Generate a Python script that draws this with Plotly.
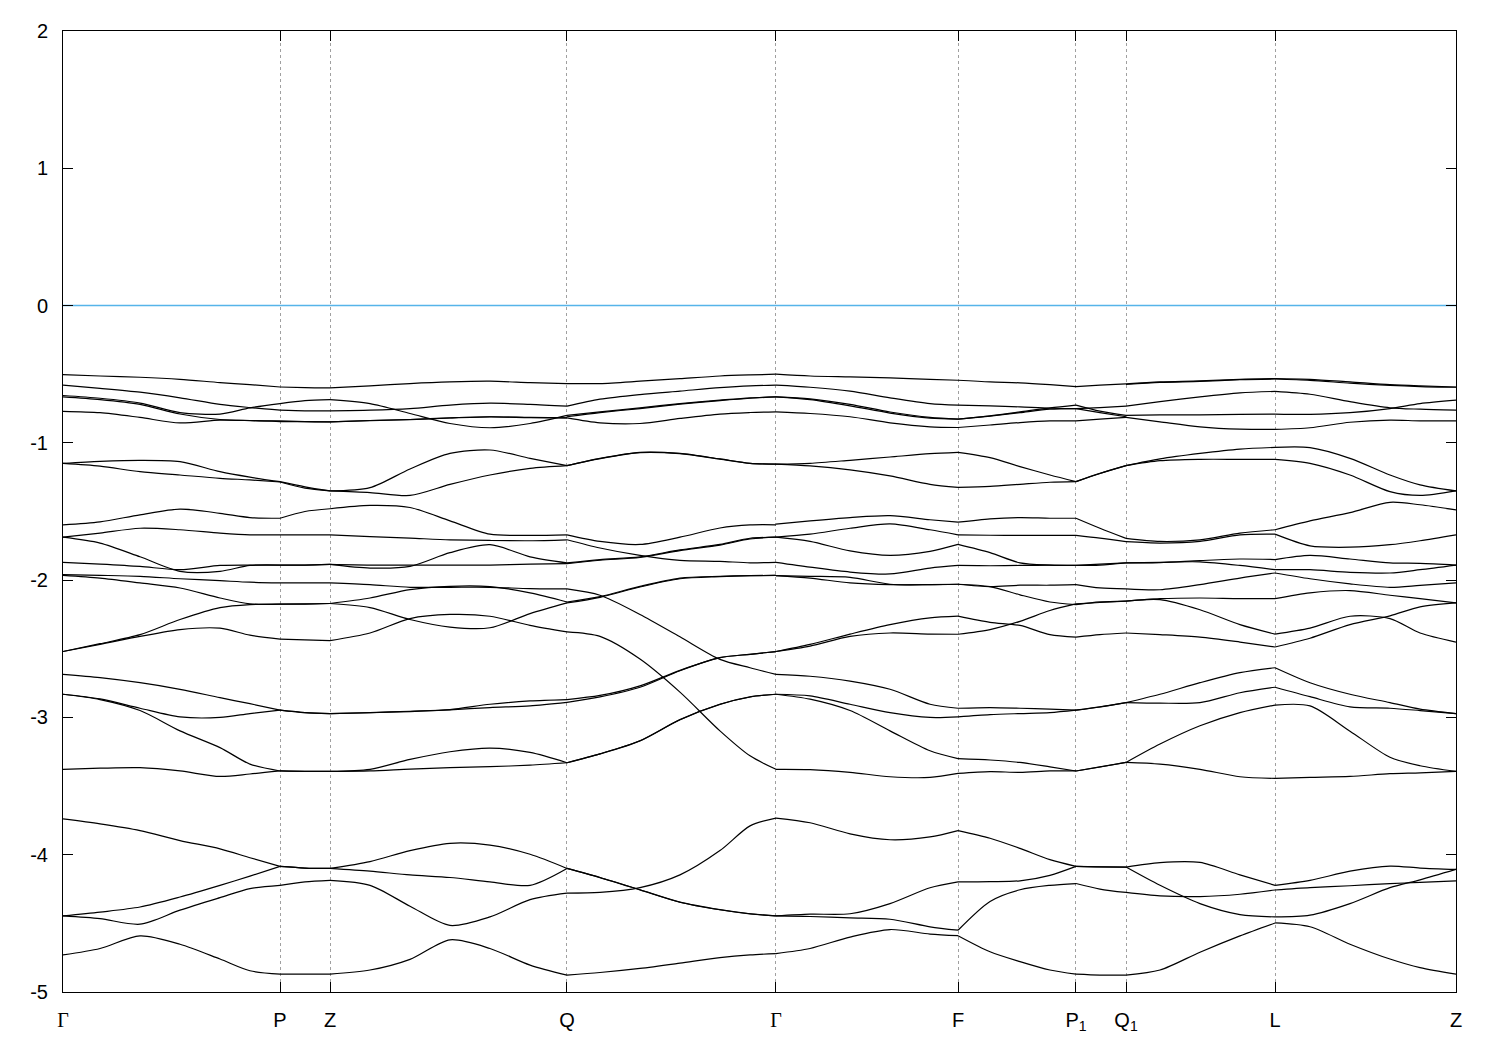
import plotly.graph_objects as go

# ---------------- k-path (normalised path length) ----------------
tick_k = [0.0, 0.1558, 0.1917, 0.3618, 0.5118, 0.6425, 0.7272, 0.7631, 0.8701, 1.0]
tick_labels = ['<span style="font-family:Liberation Serif">Γ</span>', 'P', 'Z', 'Q',
               '<span style="font-family:Liberation Serif">Γ</span>', 'F',
               'P<sub>1</sub>', 'Q<sub>1</sub>', 'L', 'Z']

k_G_P = [0.0, 0.0266, 0.0553, 0.0840, 0.1127, 0.1342, 0.1558]
k_P_Z = [0.1558, 0.1737, 0.1917]
k_Z_Q = [0.1917, 0.2204, 0.2491, 0.2778, 0.3065, 0.3353, 0.3618]
k_Q_G = [0.3618, 0.3855, 0.4142, 0.4429, 0.4716, 0.4932, 0.5118]
k_G_F = [0.5118, 0.5363, 0.5650, 0.5937, 0.6224, 0.6425]
k_F_P1 = [0.6425, 0.6655, 0.6870, 0.7085, 0.7272]
k_P1_Q1 = [0.7272, 0.7444, 0.7631]
k_Q1_L = [0.7631, 0.7875, 0.8162, 0.8449, 0.8701]
k_L_Z = [0.8701, 0.8952, 0.9239, 0.9526, 0.9742, 1.0]

fermi_level = 0.0

# ---------------- band energies (eV) per path segment ----------------
E_G_P = [
    [-0.503, -0.513, -0.522, -0.537, -0.561, -0.576, -0.593],
    [-0.580, -0.603, -0.631, -0.672, -0.720, -0.743, -0.762],
    [-0.655, -0.675, -0.710, -0.780, -0.790, -0.745, -0.714],
    [-0.665, -0.685, -0.720, -0.790, -0.830, -0.837, -0.840],
    [-0.770, -0.780, -0.815, -0.855, -0.835, -0.838, -0.845],
    [-1.150, -1.135, -1.127, -1.137, -1.210, -1.250, -1.283],
    [-1.150, -1.170, -1.210, -1.234, -1.258, -1.270, -1.285],
    [-1.597, -1.575, -1.524, -1.483, -1.513, -1.544, -1.549],
    [-1.687, -1.657, -1.622, -1.633, -1.657, -1.670, -1.670],
    [-1.687, -1.730, -1.830, -1.936, -1.936, -1.893, -1.890],
    [-1.870, -1.883, -1.900, -1.924, -1.893, -1.890, -1.890],
    [-1.960, -1.965, -1.972, -1.990, -2.004, -2.015, -2.020],
    [-1.965, -1.985, -2.020, -2.057, -2.130, -2.173, -2.175],
    [-2.520, -2.463, -2.397, -2.287, -2.200, -2.178, -2.175],
    [-2.520, -2.468, -2.410, -2.360, -2.350, -2.401, -2.430],
    [-2.686, -2.710, -2.747, -2.795, -2.856, -2.900, -2.947],
    [-2.831, -2.865, -2.933, -2.996, -3.000, -2.972, -2.947],
    [-2.831, -2.870, -2.950, -3.098, -3.220, -3.340, -3.390],
    [-3.378, -3.370, -3.366, -3.390, -3.430, -3.412, -3.390],
    [-3.739, -3.775, -3.824, -3.897, -3.957, -4.022, -4.085],
    [-4.446, -4.418, -4.381, -4.308, -4.223, -4.156, -4.085],
    [-4.446, -4.466, -4.506, -4.404, -4.313, -4.247, -4.223],
    [-4.730, -4.683, -4.591, -4.652, -4.760, -4.845, -4.870],
]

E_P_Z = [
    [-0.593, -0.598, -0.600],
    [-0.762, -0.767, -0.767],
    [-0.714, -0.693, -0.685],
    [-0.840, -0.845, -0.847],
    [-0.845, -0.845, -0.847],
    [-1.283, -1.320, -1.350],
    [-1.285, -1.330, -1.350],
    [-1.549, -1.500, -1.480],
    [-1.670, -1.670, -1.670],
    [-1.890, -1.890, -1.885],
    [-1.890, -1.890, -1.885],
    [-2.020, -2.020, -2.020],
    [-2.175, -2.173, -2.170],
    [-2.175, -2.175, -2.170],
    [-2.430, -2.435, -2.440],
    [-2.947, -2.965, -2.972],
    [-2.947, -2.965, -2.972],
    [-3.390, -3.393, -3.393],
    [-3.390, -3.393, -3.393],
    [-4.085, -4.097, -4.100],
    [-4.085, -4.097, -4.100],
    [-4.223, -4.198, -4.187],
    [-4.870, -4.870, -4.870],
]

E_Z_Q = [
    [-0.600, -0.585, -0.568, -0.556, -0.551, -0.561, -0.568],
    [-0.685, -0.714, -0.786, -0.859, -0.890, -0.859, -0.800],
    [-0.767, -0.762, -0.750, -0.725, -0.711, -0.720, -0.733],
    [-0.847, -0.837, -0.830, -0.818, -0.810, -0.815, -0.818],
    [-0.847, -0.838, -0.831, -0.819, -0.811, -0.816, -0.818],
    [-1.350, -1.326, -1.190, -1.077, -1.052, -1.113, -1.166],
    [-1.350, -1.362, -1.383, -1.303, -1.234, -1.186, -1.166],
    [-1.480, -1.456, -1.471, -1.568, -1.665, -1.674, -1.670],
    [-1.670, -1.683, -1.694, -1.706, -1.711, -1.713, -1.706],
    [-1.885, -1.912, -1.900, -1.800, -1.742, -1.830, -1.874],
    [-1.885, -1.890, -1.890, -1.890, -1.890, -1.883, -1.880],
    [-2.020, -2.033, -2.052, -2.052, -2.052, -2.062, -2.064],
    [-2.170, -2.130, -2.069, -2.045, -2.047, -2.093, -2.159],
    [-2.170, -2.200, -2.287, -2.342, -2.347, -2.244, -2.166],
    [-2.440, -2.385, -2.280, -2.250, -2.263, -2.329, -2.377],
    [-2.972, -2.965, -2.955, -2.943, -2.904, -2.880, -2.870],
    [-2.972, -2.966, -2.957, -2.945, -2.928, -2.916, -2.890],
    [-3.393, -3.378, -3.306, -3.250, -3.223, -3.255, -3.330],
    [-3.393, -3.390, -3.376, -3.366, -3.359, -3.347, -3.330],
    [-4.100, -4.050, -3.970, -3.917, -3.930, -3.997, -4.100],
    [-4.100, -4.120, -4.147, -4.166, -4.198, -4.223, -4.100],
    [-4.187, -4.223, -4.375, -4.515, -4.453, -4.327, -4.280],
    [-4.870, -4.840, -4.762, -4.620, -4.683, -4.804, -4.877],
]

E_Q_G = [
    [-0.568, -0.568, -0.551, -0.532, -0.513, -0.505, -0.500],
    [-0.733, -0.682, -0.648, -0.623, -0.598, -0.585, -0.580],
    [-0.800, -0.774, -0.745, -0.714, -0.689, -0.672, -0.665],
    [-0.810, -0.780, -0.750, -0.718, -0.692, -0.675, -0.665],
    [-0.818, -0.854, -0.859, -0.822, -0.790, -0.779, -0.774],
    [-1.166, -1.113, -1.069, -1.077, -1.117, -1.149, -1.155],
    [-1.166, -1.115, -1.071, -1.079, -1.119, -1.150, -1.155],
    [-1.670, -1.718, -1.740, -1.687, -1.620, -1.598, -1.597],
    [-1.706, -1.766, -1.820, -1.856, -1.863, -1.874, -1.870],
    [-1.874, -1.850, -1.830, -1.780, -1.740, -1.695, -1.687],
    [-1.880, -1.855, -1.835, -1.785, -1.745, -1.700, -1.687],
    [-2.159, -2.120, -2.045, -1.985, -1.972, -1.967, -1.965],
    [-2.166, -2.125, -2.050, -1.990, -1.975, -1.968, -1.965],
    [-2.064, -2.110, -2.250, -2.413, -2.577, -2.638, -2.686],
    [-2.377, -2.410, -2.575, -2.816, -3.098, -3.280, -3.378],
    [-2.870, -2.840, -2.770, -2.657, -2.565, -2.540, -2.520],
    [-2.890, -2.850, -2.780, -2.660, -2.565, -2.540, -2.520],
    [-3.330, -3.265, -3.170, -3.016, -2.904, -2.850, -2.831],
    [-3.330, -3.266, -3.171, -3.017, -2.905, -2.851, -2.831],
    [-4.100, -4.166, -4.255, -4.345, -4.400, -4.430, -4.446],
    [-4.100, -4.167, -4.256, -4.346, -4.401, -4.431, -4.446],
    [-4.280, -4.275, -4.240, -4.147, -3.970, -3.790, -3.733],
    [-4.877, -4.858, -4.828, -4.790, -4.750, -4.730, -4.720],
]

E_G_F = [
    [-0.500, -0.513, -0.520, -0.527, -0.537, -0.544],
    [-0.580, -0.595, -0.623, -0.672, -0.714, -0.725],
    [-0.665, -0.680, -0.720, -0.775, -0.815, -0.827],
    [-0.665, -0.685, -0.730, -0.783, -0.820, -0.827],
    [-0.774, -0.786, -0.810, -0.854, -0.883, -0.888],
    [-1.155, -1.149, -1.127, -1.103, -1.079, -1.069],
    [-1.155, -1.168, -1.197, -1.241, -1.302, -1.324],
    [-1.592, -1.568, -1.544, -1.530, -1.560, -1.578],
    [-1.687, -1.665, -1.622, -1.590, -1.633, -1.670],
    [-1.687, -1.718, -1.787, -1.820, -1.790, -1.740],
    [-1.870, -1.905, -1.941, -1.955, -1.912, -1.893],
    [-1.967, -1.985, -2.020, -2.033, -2.033, -2.030],
    [-1.967, -1.972, -1.980, -2.030, -2.033, -2.030],
    [-2.520, -2.468, -2.393, -2.324, -2.275, -2.262],
    [-2.520, -2.480, -2.410, -2.385, -2.393, -2.394],
    [-2.686, -2.700, -2.735, -2.795, -2.904, -2.933],
    [-2.831, -2.843, -2.904, -2.965, -3.000, -2.996],
    [-2.831, -2.867, -2.950, -3.098, -3.243, -3.300],
    [-3.378, -3.380, -3.400, -3.432, -3.437, -3.408],
    [-3.733, -3.767, -3.848, -3.891, -3.870, -3.824],
    [-4.446, -4.433, -4.430, -4.356, -4.241, -4.198],
    [-4.446, -4.450, -4.460, -4.470, -4.525, -4.550],
    [-4.720, -4.683, -4.600, -4.545, -4.578, -4.590],
]

E_F_P1 = [
    [-0.544, -0.556, -0.563, -0.576, -0.590],
    [-0.725, -0.730, -0.738, -0.748, -0.750],
    [-0.827, -0.803, -0.774, -0.745, -0.725],
    [-0.827, -0.805, -0.780, -0.755, -0.750],
    [-0.888, -0.870, -0.852, -0.840, -0.840],
    [-1.069, -1.108, -1.173, -1.234, -1.282],
    [-1.324, -1.317, -1.302, -1.287, -1.282],
    [-1.578, -1.553, -1.544, -1.549, -1.549],
    [-1.670, -1.673, -1.674, -1.674, -1.674],
    [-1.740, -1.800, -1.874, -1.890, -1.893],
    [-1.893, -1.895, -1.893, -1.890, -1.893],
    [-2.030, -2.047, -2.107, -2.159, -2.178],
    [-2.030, -2.047, -2.037, -2.037, -2.033],
    [-2.262, -2.307, -2.330, -2.397, -2.415],
    [-2.394, -2.360, -2.300, -2.221, -2.173],
    [-2.933, -2.928, -2.933, -2.940, -2.947],
    [-2.996, -2.980, -2.972, -2.965, -2.947],
    [-3.300, -3.310, -3.328, -3.360, -3.390],
    [-3.408, -3.395, -3.400, -3.390, -3.390],
    [-3.824, -3.880, -3.954, -4.036, -4.085],
    [-4.198, -4.196, -4.190, -4.150, -4.085],
    [-4.550, -4.340, -4.255, -4.223, -4.210],
    [-4.590, -4.707, -4.779, -4.840, -4.870],
]

E_P1_Q1 = [
    [-0.590, -0.580, -0.571],
    [-0.750, -0.743, -0.733],
    [-0.725, -0.769, -0.800],
    [-0.750, -0.780, -0.810],
    [-0.840, -0.827, -0.815],
    [-1.282, -1.222, -1.166],
    [-1.282, -1.223, -1.166],
    [-1.549, -1.622, -1.696],
    [-1.674, -1.694, -1.720],
    [-1.893, -1.890, -1.874],
    [-1.893, -1.883, -1.874],
    [-2.033, -2.057, -2.064],
    [-2.173, -2.163, -2.153],
    [-2.178, -2.159, -2.153],
    [-2.415, -2.397, -2.385],
    [-2.947, -2.923, -2.892],
    [-2.947, -2.924, -2.892],
    [-3.390, -3.360, -3.328],
    [-3.390, -3.361, -3.328],
    [-4.085, -4.088, -4.090],
    [-4.085, -4.089, -4.090],
    [-4.210, -4.250, -4.275],
    [-4.870, -4.877, -4.877],
]

E_Q1_L = [
    [-0.571, -0.556, -0.549, -0.537, -0.532],
    [-0.575, -0.560, -0.552, -0.540, -0.535],
    [-0.733, -0.700, -0.665, -0.636, -0.625],
    [-0.800, -0.796, -0.796, -0.792, -0.790],
    [-0.815, -0.847, -0.883, -0.900, -0.902],
    [-1.166, -1.117, -1.077, -1.045, -1.033],
    [-1.166, -1.130, -1.120, -1.120, -1.120],
    [-1.696, -1.718, -1.706, -1.657, -1.633],
    [-1.720, -1.730, -1.718, -1.670, -1.665],
    [-1.874, -1.870, -1.867, -1.893, -1.924],
    [-1.874, -1.873, -1.858, -1.846, -1.850],
    [-2.064, -2.070, -2.033, -1.985, -1.948],
    [-2.153, -2.142, -2.216, -2.324, -2.393],
    [-2.153, -2.135, -2.130, -2.135, -2.135],
    [-2.385, -2.397, -2.415, -2.451, -2.487],
    [-2.892, -2.831, -2.747, -2.674, -2.638],
    [-2.892, -2.896, -2.892, -2.820, -2.780],
    [-3.328, -3.194, -3.061, -2.965, -2.910],
    [-3.328, -3.340, -3.378, -3.432, -3.444],
    [-4.090, -4.057, -4.056, -4.147, -4.223],
    [-4.090, -4.223, -4.356, -4.436, -4.453],
    [-4.275, -4.300, -4.305, -4.288, -4.257],
    [-4.877, -4.840, -4.710, -4.591, -4.497],
]

E_L_Z = [
    [-0.532, -0.537, -0.556, -0.576, -0.585, -0.593],
    [-0.535, -0.545, -0.565, -0.582, -0.590, -0.595],
    [-0.625, -0.646, -0.700, -0.745, -0.755, -0.762],
    [-0.790, -0.792, -0.780, -0.750, -0.714, -0.689],
    [-0.902, -0.890, -0.850, -0.834, -0.840, -0.840],
    [-1.033, -1.035, -1.113, -1.234, -1.306, -1.350],
    [-1.120, -1.149, -1.234, -1.355, -1.383, -1.350],
    [-1.633, -1.568, -1.508, -1.433, -1.451, -1.488],
    [-1.665, -1.750, -1.760, -1.742, -1.713, -1.670],
    [-1.850, -1.820, -1.846, -1.874, -1.878, -1.890],
    [-1.924, -1.924, -1.943, -1.948, -1.924, -1.890],
    [-1.948, -1.990, -2.027, -2.052, -2.038, -2.020],
    [-2.135, -2.093, -2.076, -2.110, -2.135, -2.166],
    [-2.393, -2.350, -2.263, -2.280, -2.385, -2.451],
    [-2.487, -2.423, -2.324, -2.260, -2.195, -2.166],
    [-2.638, -2.747, -2.831, -2.892, -2.940, -2.972],
    [-2.780, -2.849, -2.923, -2.933, -2.950, -2.972],
    [-2.910, -2.916, -3.100, -3.290, -3.352, -3.393],
    [-3.444, -3.437, -3.430, -3.410, -3.404, -3.393],
    [-4.223, -4.187, -4.120, -4.083, -4.097, -4.107],
    [-4.257, -4.240, -4.226, -4.210, -4.202, -4.190],
    [-4.453, -4.440, -4.356, -4.240, -4.183, -4.107],
    [-4.497, -4.525, -4.652, -4.760, -4.823, -4.870],
]

segments = [
    (k_G_P, E_G_P), (k_P_Z, E_P_Z), (k_Z_Q, E_Z_Q), (k_Q_G, E_Q_G),
    (k_G_F, E_G_F), (k_F_P1, E_F_P1), (k_P1_Q1, E_P1_Q1),
    (k_Q1_L, E_Q1_L), (k_L_Z, E_L_Z),
]

fig = go.Figure()

# Fermi level line
fig.add_trace(go.Scatter(
    x=[tick_k[0], tick_k[-1]], y=[fermi_level, fermi_level], mode="lines",
    line=dict(color="#56b4e9", width=1.5), hoverinfo="skip"))

# bands
for ks, bands in segments:
    xs, ys = [], []
    for band in bands:
        xs += list(ks) + [None]
        ys += list(band) + [None]
    fig.add_trace(go.Scatter(
        x=xs, y=ys, mode="lines",
        line=dict(color="black", width=1.2, shape="spline", smoothing=0.8),
        connectgaps=False, hoverinfo="skip"))

axis_font = dict(family="Liberation Sans, Arial, sans-serif", size=20, color="black")

# the page body adds an 8 px offset, so the figure is 8 px smaller and margins shifted
fig.update_layout(
    width=1492, height=1042,
    margin=dict(l=55, r=44, t=20, b=58),
    paper_bgcolor="white", plot_bgcolor="white",
    showlegend=False,
    font=axis_font,
)
fig.update_xaxes(
    range=[tick_k[0], tick_k[-1]],
    tickmode="array", tickvals=tick_k, ticktext=tick_labels,
    ticks="inside", ticklen=10, tickwidth=1, tickcolor="black",
    showline=True, linecolor="black", linewidth=1, mirror="allticks",
    showgrid=True, gridcolor="#a0a0a0", gridwidth=1, griddash="3px,3px",
    zeroline=False, tickfont=axis_font, ticklabelstandoff=10,
)
fig.update_yaxes(
    range=[-5, 2],
    tickmode="array", tickvals=[-5, -4, -3, -2, -1, 0, 1, 2],
    ticktext=["-5", "-4", "-3", "-2", "-1", "0", "1", "2"],
    ticks="inside", ticklen=10, tickwidth=1, tickcolor="black",
    showline=True, linecolor="black", linewidth=1, mirror="allticks",
    showgrid=False, zeroline=False, tickfont=axis_font, ticklabelstandoff=10,
)

fig.write_html("out.html")
